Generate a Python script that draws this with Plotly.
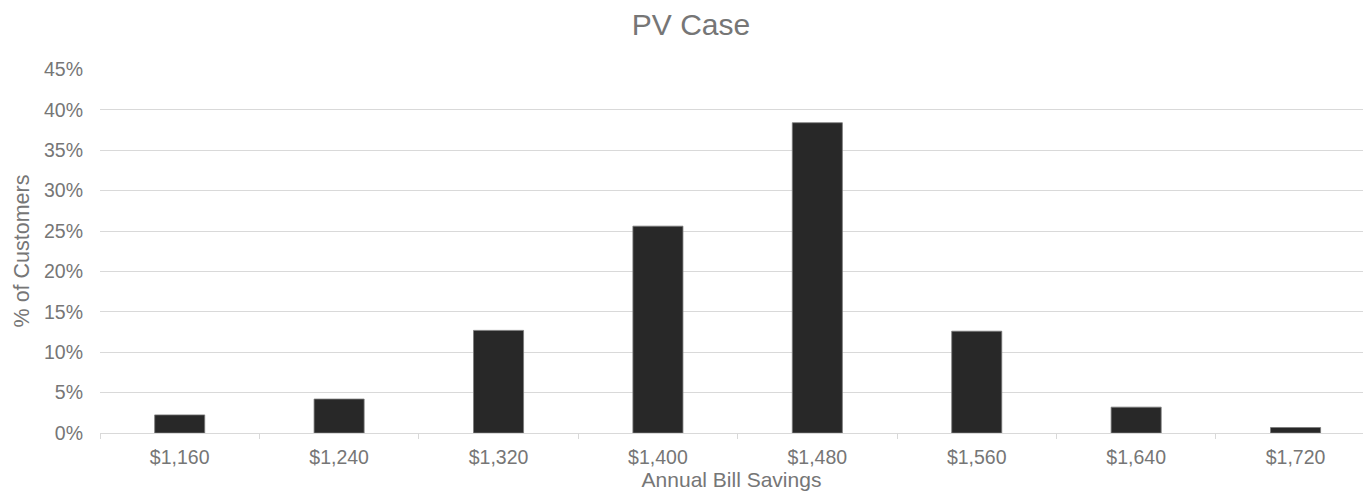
import plotly.graph_objects as go

# Histogram of annual bill savings for the PV case
savings_bins = ["$1,160", "$1,240", "$1,320", "$1,400", "$1,480", "$1,560", "$1,640", "$1,720"]
share_of_customers = [0.0224, 0.042, 0.127, 0.256, 0.384, 0.126, 0.032, 0.0068]

FONT = "Liberation Sans, Arial, sans-serif"
TEXT_GREY = "#767676"
GRID_GREY = "#d9d9d9"

fig = go.Figure(
    go.Bar(
        x=savings_bins,
        y=share_of_customers,
        marker=dict(color="#282828", line=dict(color="#7a7a7a", width=0.8)),
        hoverinfo="x+y",
    )
)

fig.update_layout(
    width=1363,
    height=501,
    margin=dict(l=100, r=0, t=68.5, b=67.5),
    paper_bgcolor="white",
    plot_bgcolor="white",
    bargap=0.686,
    showlegend=False,
    font=dict(family=FONT, color=TEXT_GREY, size=19.5),
    title=dict(
        text="PV Case",
        font=dict(family=FONT, size=30, color=TEXT_GREY),
        x=691 / 1363,
        xanchor="center",
        xref="container",
        y=1 - 24 / 501,
        yanchor="middle",
        yref="container",
    ),
)

fig.update_xaxes(
    type="category",
    range=[-0.5, 7.423],
    showline=True,
    linecolor=GRID_GREY,
    linewidth=1.3,
    ticks="outside",
    tickson="boundaries",
    ticklen=5,
    tickwidth=1.3,
    tickcolor=GRID_GREY,
    showgrid=False,
    ticklabelstandoff=6,
    tickfont=dict(size=19.5, color=TEXT_GREY),
    title=dict(text="Annual Bill Savings", font=dict(size=21, color=TEXT_GREY), standoff=4),
)

fig.update_yaxes(
    range=[0, 0.4505],
    dtick=0.05,
    tickformat=".0%",
    showgrid=True,
    gridcolor=GRID_GREY,
    gridwidth=1.3,
    zeroline=False,
    showline=False,
    ticks="",
    ticklabelstandoff=16,
    tickfont=dict(size=19.5, color=TEXT_GREY),
    title=dict(text="% of Customers", font=dict(size=21.5, color=TEXT_GREY), standoff=8),
)

fig.write_html("out.html")
